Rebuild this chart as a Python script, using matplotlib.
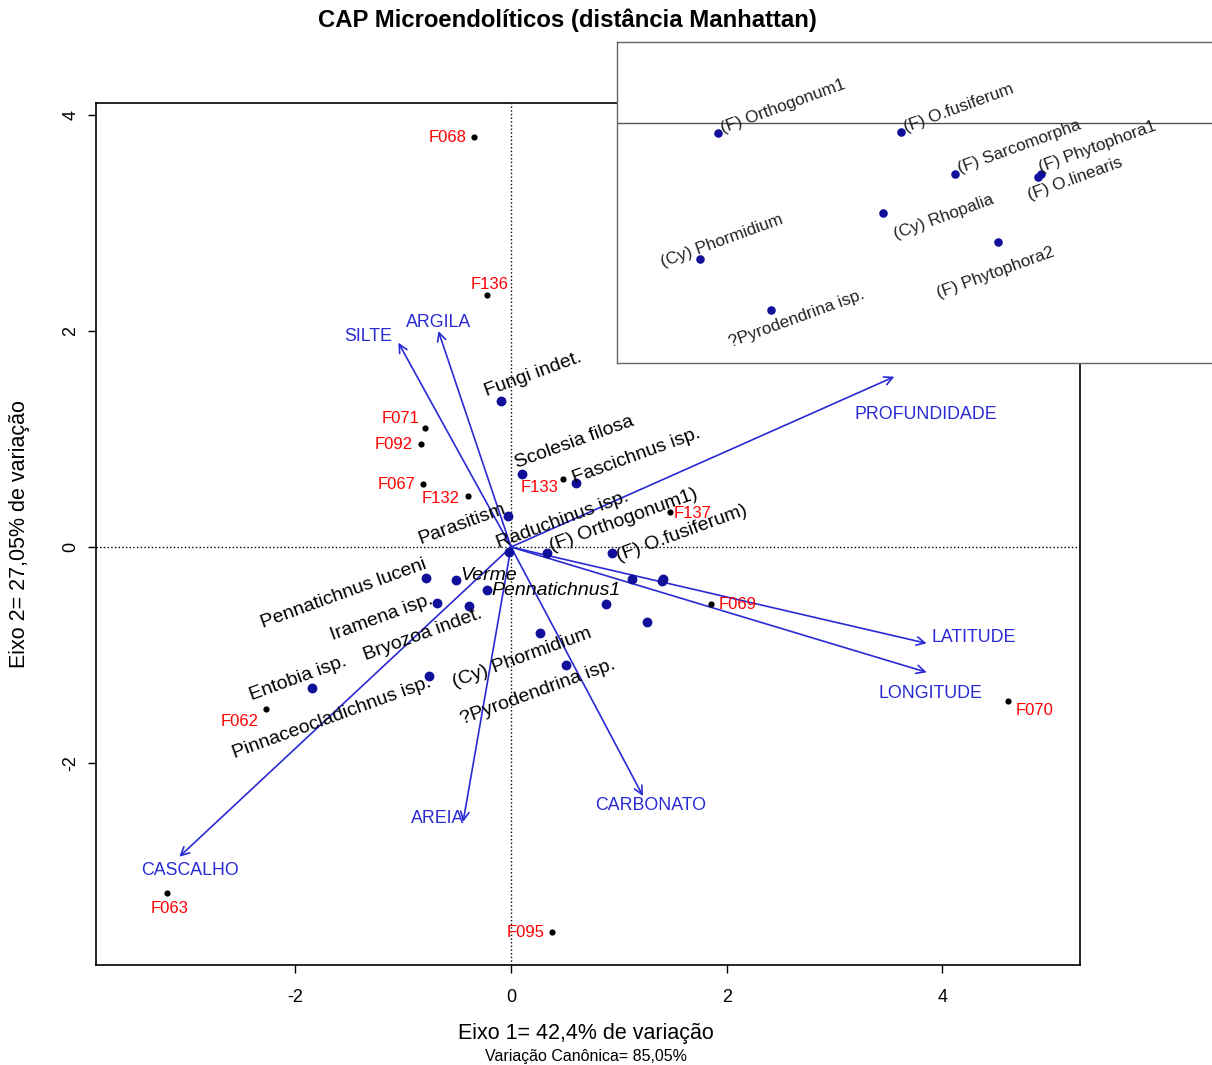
import matplotlib.pyplot as plt
import matplotlib as mpl

mpl.rcParams['font.family'] = ['Liberation Sans', 'DejaVu Sans']
mpl.rcParams['axes.unicode_minus'] = False

# species scores (CAP axis 1, axis 2)
species = ['Fungi indet.', 'Scolesia filosa', 'Parasitism', 'Raduchinus isp.',
           '(F) Orthogonum1)', '(F) O.fusiferum)', 'Fascichnus isp.', 'Verme',
           'Pennatichnus luceni', 'Iramena isp.', 'Bryozoa indet.', 'Entobia isp.',
           'Pinnaceocladichnus isp.', '(Cy) Phormidium', '?Pyrodendrina isp.',
           'Pennatichnus1', '(F) Sarcomorpha', '(F) Phytophora1', '(F) O.linearis',
           '(Cy) Rhopalia', '(F) Phytophora2']
sp_x = [-0.096, 0.099, -0.025, -0.015, 0.331, 0.940, 0.603, -0.510,
        -0.788, -0.684, -0.390, -1.843, -0.758, 0.269, 0.507,
        -0.226, 1.120, 1.407, 1.398, 0.881, 1.264]
sp_y = [1.355, 0.673, 0.287, -0.043, -0.058, -0.053, 0.590, -0.306,
        -0.287, -0.516, -0.543, -1.303, -1.194, -0.799, -1.097,
        -0.398, -0.296, -0.300, -0.318, -0.528, -0.697]

# sample scores
samples = ['F068', 'F136', 'F071', 'F092', 'F067', 'F132', 'F133',
           'F137', 'F069', 'F070', 'F062', 'F063', 'F095']
sa_x = [-0.343, -0.223, -0.798, -0.838, -0.814, -0.399, 0.482,
        1.475, 1.853, 4.608, -2.273, -3.188, 0.380]
sa_y = [3.796, 2.333, 1.102, 0.951, 0.581, 0.472, 0.630,
        0.324, -0.528, -1.426, -1.503, -3.206, -3.565]

# environmental vectors
env = ['SILTE', 'ARGILA', 'PROFUNDIDADE', 'LATITUDE', 'LONGITUDE',
       'CARBONATO', 'AREIA', 'CASCALHO']
env_x = [-1.045, -0.674, 3.556, 3.856, 3.856, 1.224, -0.445, -3.077]
env_y = [1.892, 2.000, 1.577, -0.892, -1.160, -2.306, -2.546, -2.868]

# inset (zoom on the cluster right of the origin)
inset_sp = ['(F) Orthogonum1', '(F) O.fusiferum', '(F) Sarcomorpha', '(F) Phytophora1',
            '(F) O.linearis', '(Cy) Rhopalia', '(F) Phytophora2', '(Cy) Phormidium',
            '?Pyrodendrina isp.']
inset_x = [0.331, 0.940, 1.120, 1.407, 1.398, 0.881, 1.264, 0.269, 0.507]
inset_y = [-0.058, -0.053, -0.296, -0.300, -0.318, -0.528, -0.697, -0.799, -1.097]

# label placement (pixel offsets), layout only
sp_off = {'Fungi indet.': (-14, 4), 'Scolesia filosa': (-5, 6), 'Parasitism': (-88, -28),
          'Raduchinus isp.': (-11, 3), '(F) Orthogonum1)': (5, 2), '(F) O.fusiferum)': (6, -9),
          'Fascichnus isp.': (-1, 0), 'Verme': (4, 0), 'Pennatichnus luceni': (-163, -50),
          'Iramena isp.': (-105, -37), 'Bryozoa indet.': (-103, -55), 'Entobia isp.': (-61, -12),
          'Pinnaceocladichnus isp.': (-195, -82), '(Cy) Phormidium': (-85, -54),
          '?Pyrodendrina isp.': (-103, -59), 'Pennatichnus1': (5, -5)}
italic = ['Verme', 'Pennatichnus1']
sa_off = {'F068': (-26, 0), 'F136': (3, 11), 'F071': (-24, 9), 'F092': (-27, 0),
          'F067': (-27, 0), 'F132': (-27, -2), 'F133': (-23, -9), 'F137': (23, -1),
          'F069': (27, 0), 'F070': (27, -9), 'F062': (-26, -12), 'F063': (2, -15),
          'F095': (-26, 0)}
env_off = {'SILTE': (-30, 6), 'ARGILA': (0, 9), 'PROFUNDIDADE': (31, -38),
           'LATITUDE': (47, 6), 'LONGITUDE': (4, -21), 'CARBONATO': (8, -9),
           'AREIA': (-25, 3), 'CASCALHO': (11, -14)}
inset_off = {'(F) Orthogonum1': (5, 0), '(F) O.fusiferum': (5, 0), '(F) Sarcomorpha': (5, 0),
             '(F) Phytophora1': (0, 2), '(F) O.linearis': (-8, -23), '(Cy) Rhopalia': (13, -26),
             '(F) Phytophora2': (-59, -56), '(Cy) Phormidium': (-37, -8),
             '?Pyrodendrina isp.': (-40, -37)}

dot_col = '#10109a'
arr_col = '#2a2ad4'

fig = plt.figure(figsize=(12.12, 10.65), dpi=100)
ax = fig.add_axes([96/1212, 1-965/1065, 984/1212, 862/1065])

ax.axvline(0, color='black', ls=':', lw=1, zorder=1)
ax.axhline(0, color='black', ls=':', lw=1, zorder=1)

for name, x, y in zip(env, env_x, env_y):
    ax.annotate('', xy=(x, y), xytext=(0, 0),
                arrowprops=dict(arrowstyle='->,head_length=0.4,head_width=0.2',
                                color=arr_col, lw=1.2, shrinkA=0, shrinkB=0,
                                mutation_scale=15), zorder=2)
    ax.annotate(name, xy=(x, y), xytext=env_off[name], textcoords='offset pixels',
                ha='center', va='center', color=arr_col, fontsize=12.8)

ax.scatter(sp_x, sp_y, s=50, color=dot_col, zorder=3, linewidths=0)
for name, x, y in zip(species, sp_x, sp_y):
    if name not in sp_off:
        continue
    rot = 0 if name in italic else 20
    st = 'italic' if name in italic else 'normal'
    ax.annotate(name, xy=(x, y), xytext=sp_off[name], textcoords='offset pixels',
                rotation=rot, rotation_mode='anchor', ha='left', va='baseline',
                fontsize=14, style=st, color='black', zorder=4)

ax.scatter(sa_x, sa_y, s=20, color='black', zorder=3, linewidths=0)
for name, x, y in zip(samples, sa_x, sa_y):
    ax.annotate(name, xy=(x, y), xytext=sa_off[name], textcoords='offset pixels',
                ha='center', va='center', color='red', fontsize=12)

ax.set_xlim(-3.850, 5.278)
ax.set_ylim(-3.870, 4.111)
ax.set_xticks([-2, 0, 2, 4])
ax.set_yticks([-2, 0, 2, 4])
ax.tick_params(direction='out', length=6, width=1, labelsize=13, pad=11)
ax.tick_params(axis='y', pad=6)
for lab in ax.get_yticklabels():
    lab.set_rotation(90)
    lab.set_va('center')
for s in ax.spines.values():
    s.set_linewidth(1.2)

fig.text(567/1212, 1-20/1065, 'CAP Microendolíticos (distância Manhattan)',
         ha='center', va='center', fontsize=17.2, fontweight='bold')
fig.text(586/1212, 1-1033/1065, 'Eixo 1= 42,4% de variação',
         ha='center', va='center', fontsize=15.5)
fig.text(586/1212, 1-1056/1065, 'Variação Canônica= 85,05%',
         ha='center', va='center', fontsize=11.5)
fig.text(20/1212, 1-534/1065, 'Eixo 2= 27,05% de variação',
         ha='center', va='center', rotation=90, fontsize=15.5)

# inset
ax2 = fig.add_axes([617/1212, 1-363/1065, 600/1212, 321/1065])
ax2.set_facecolor('white')
ax2.axhline(0, color='#555555', lw=1)
ax2.scatter(inset_x, inset_y, s=38, color=dot_col, zorder=3, linewidths=0)
for name, x, y in zip(inset_sp, inset_x, inset_y):
    ax2.annotate(name, xy=(x, y), xytext=inset_off[name], textcoords='offset pixels',
                 rotation=20, rotation_mode='anchor', ha='left', va='baseline',
                 fontsize=12.3, color='#222222')
ax2.set_xlim(-0.006, 1.994)
ax2.set_ylim(-1.408, 0.476)
ax2.set_xticks([])
ax2.set_yticks([])
for s in ax2.spines.values():
    s.set_color('#666666')
    s.set_linewidth(1)

fig.savefig('out.png', dpi=100)
